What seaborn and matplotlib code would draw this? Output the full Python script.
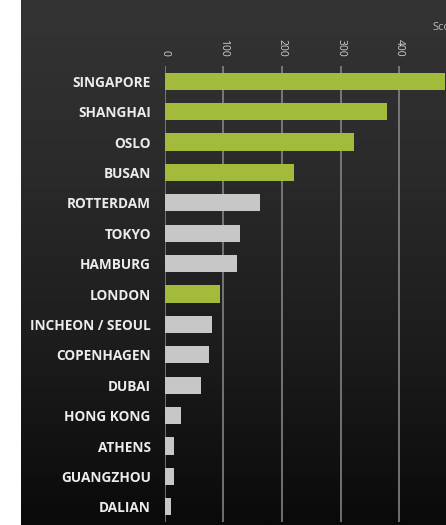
import numpy as np
import pandas as pd
import matplotlib
matplotlib.use("Agg")
import matplotlib.pyplot as plt
import seaborn as sns

# Port scores, top to bottom
ports = ["SINGAPORE", "SHANGHAI", "OSLO", "BUSAN", "ROTTERDAM", "TOKYO",
         "HAMBURG", "LONDON", "INCHEON / SEOUL", "COPENHAGEN", "DUBAI",
         "HONG KONG", "ATHENS", "GUANGZHOU", "DALIAN"]
scores = [478, 379, 323, 221, 162, 129, 124, 94, 81, 75, 62, 27, 16, 16, 10]
highlighted = [True, True, True, True, False, False, False, True,
               False, False, False, False, False, False, False]
x_ticks = [0, 100, 200, 300, 400]
axis_title = "Score"

df = pd.DataFrame({"port": ports, "score": scores,
                   "group": ["hi" if h else "lo" for h in highlighted]})

sns.set_theme(style="white")
plt.rcParams["font.family"] = ["Open Sans", "DejaVu Sans"]

W, H = 446, 525
fig = plt.figure(figsize=(W / 100, H / 100), dpi=100)
fig.patch.set_facecolor("white")

# dark vertical gradient panel behind the chart
bg = fig.add_axes([21 / W, 0, 1 - 21 / W, 1])
grad = np.linspace(0, 1, 256).reshape(-1, 1)
cmap = matplotlib.colors.LinearSegmentedColormap.from_list(
    "panel", ["#343434", "#2a2a2a", "#1c1c1c", "#0a0a0a"])
bg.imshow(grad, aspect="auto", cmap=cmap, extent=[0, 1, 0, 1], origin="upper")
bg.set_axis_off()

left_px, top_px, bottom_px = 164.7, 66, 522
ax = fig.add_axes([left_px / W, (H - bottom_px) / H,
                   (W - left_px) / W, (bottom_px - top_px) / H])
ax.patch.set_alpha(0)

sns.barplot(data=df, x="score", y="port", hue="group",
            palette={"hi": "#a3bb3b", "lo": "#c7c7c7"}, saturation=1,
            dodge=False, width=0.57, legend=False, ax=ax,
            linewidth=0, zorder=3)

ax.set_xlim(0, 480)
ax.set_ylim(14.5, -0.5)
ax.set_xticks(x_ticks)
for t in x_ticks:
    ax.axvline(t, color="#8c8c8c", lw=1.1, zorder=1)

ax.xaxis.tick_top()
ax.tick_params(axis="x", length=0, pad=7, labelsize=7.5, labelcolor="#d0d0d0",
               labelrotation=-90)
ax.tick_params(axis="y", length=0, pad=10, labelsize=9.8, labelcolor="#ececec")
for lab in ax.get_yticklabels():
    lab.set_fontweight("bold")
ax.set_xlabel("")
ax.set_ylabel("")
for s in ax.spines.values():
    s.set_visible(False)

fig.text(432 / W, 1 - 27 / H, axis_title, color="#bbbbbb", fontsize=8,
         ha="left", va="center")

fig.savefig("out.png", dpi=100)
